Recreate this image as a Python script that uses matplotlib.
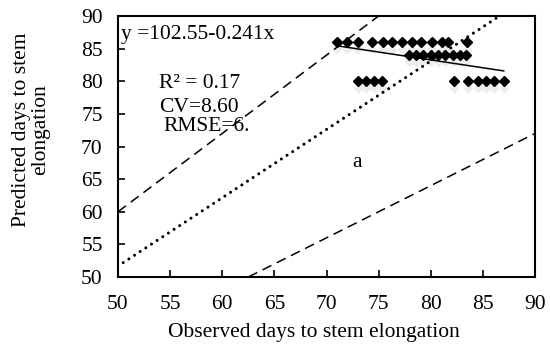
import matplotlib.pyplot as plt
from matplotlib.transforms import offset_copy

# observed vs predicted days to stem elongation
obs_86 = [71, 72, 73, 74.4, 75.4, 76.3, 77.2, 78.2, 79.1, 80.1, 81.1, 81.7, 83.5]
obs_84 = [77.9, 78.6, 79.3, 80, 80.7, 81.4, 82.1, 82.8, 83.4]
obs_80 = [73, 73.8, 74.6, 75.3, 82.2, 83.6, 84.5, 85.3, 86.1, 87]
obs = obs_86 + obs_84 + obs_80
pred = [86] * len(obs_86) + [84] * len(obs_84) + [80] * len(obs_80)

fit_x = [71, 87]
intercept, slope = 102.55, -0.241

upper_x = [50, 75]        # y = 1.2x
upper_y = [60, 90]
lower_x = [62.5, 90]      # y = 0.8x
lower_y = [50, 72]
dotted_x = [50.5, 86.6]
dotted_y = [52.2, 90]

ticks = [50, 55, 60, 65, 70, 75, 80, 85, 90]

plt.rcParams['font.family'] = ['Liberation Serif', 'DejaVu Serif']
plt.rcParams['font.size'] = 15.5

fig = plt.figure(figsize=(5.5, 3.48), dpi=100)
ax = fig.add_axes([118 / 550, 1 - 277 / 348, 417 / 550, 261 / 348])

# faint shadow under the markers
shadow = offset_copy(ax.transData, fig=fig, x=0, y=-7, units='dots')
ax.plot(obs, pred, 'D', ms=5.5, color='#ededed', mec='none', transform=shadow, zorder=1)
ax.plot(obs, pred, 'D', ms=5.5, color='black', mec='black', zorder=3)

ax.plot(fit_x, [intercept + slope * x for x in fit_x], color='black', lw=1.1, zorder=4)
ax.plot(upper_x, upper_y, color='black', lw=1.1, dashes=(6.5, 3.9), zorder=2)
ax.plot(lower_x, lower_y, color='black', lw=1.1, dashes=(6.5, 3.9), zorder=2)
ax.plot(dotted_x, dotted_y, color='black', lw=2.2, dashes=(0.01, 2.2),
        dash_capstyle='round', zorder=2)

ax.set_xlim(50, 90)
ax.set_ylim(50, 90)
ax.set_xticks(ticks)
ax.set_yticks(ticks)
ax.tick_params(direction='in', length=5, width=1.2)
ax.tick_params(axis='x', pad=13)
ax.tick_params(axis='y', pad=11)
for s in ax.spines.values():
    s.set_linewidth(1.5)

ax.text(50.3, 87.1, 'y =102.55-0.241x', ha='left', va='center')
ax.text(57.8, 79.7, 'R² = 0.17', ha='center', va='center')
ax.text(57.8, 76.05, 'CV=8.60', ha='center', va='center')
ax.text(58.5, 73.0, 'RMSE=6.', ha='center', va='center')
ax.text(72.9, 67.5, 'a', ha='center', va='center')

fig.text(314 / 550, 1 - 332 / 348, 'Observed days to stem elongation',
         ha='center', va='center')
fig.text(31 / 550, 1 - 130 / 348, 'Predicted days to stem\nelongation',
         rotation=90, ha='center', va='center', linespacing=1.0)

fig.savefig('out.png', dpi=100)
